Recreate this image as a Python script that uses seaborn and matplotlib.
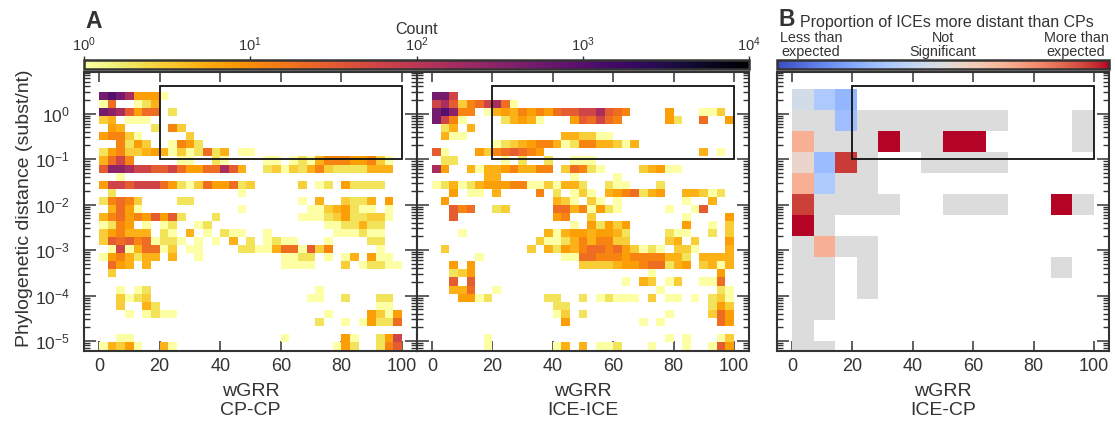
import numpy as np
import matplotlib
matplotlib.use("Agg")
import matplotlib.pyplot as plt
import seaborn as sns
from matplotlib.cm import ScalarMappable
from matplotlib.colors import LogNorm, Normalize
from matplotlib.patches import Rectangle
from matplotlib.ticker import LogLocator, NullFormatter, NullLocator

count_levels = {"a": 1, "b": 2, "c": 3, "d": 5, "e": 7, "f": 12, "g": 20, "h": 30,
                "i": 60, "j": 150, "k": 300, "l": 500, "m": 1000}

cp_cp = [
    "lmljeeea",
    "ag..abd",
    "lkjhegg.b",
    "cd.aaa",
    ".ed...b.fc",
    "effca.....c",
    "..fbec..afeb",
    "befccdedacabgbd.aa",
    "dgif.....aa..ba....aa.abadfffeefca",
    "hkkjiihhigeeggjhd..bcacbdfcbbbbddd",
    "..a",
    "eiihiiigebacgeegbc.....c.ab.ebbbb",
    ".b..............a",
    "bfgfc....bb............a.d..cbbd.e",
    ".dgea...........a.......aacdebaa.a",
    "dfgefehehb...b.........aaabcebbcca",
    "abfe.a.ab..ab.............aabbdbb",
    "cefddd.ba.d.a.baa..a.......aaabaa",
    "chghfgabba.a.a.d.b.abaa...a....bb",
    ".aiadggac.aa....bbaadggahcf.....a",
    "aefdbdd.d..a.........aabb.a.ad.eaa",
    ".ged.d...............aaaa...c.abbaa",
    ".c",
    "",
    "..a.ab...................a",
    "..cabc..................aa..b...bb",
    "..c..db.........................aa",
    "...a.abaa.................a....ecae",
    ".........................b..a.aebbg",
    "",
    "..aa.................a......ea..bei",
    "adcea..da..................aeb..bfh",
]

ice_ice = [
    "lli",
    "ijhcfgijga",
    "lmkff.adedfefeghhiijhgf....e...aac",
    "lifa....bdeda...ehgigf.....eb..g..e",
    ".bd.d",
    ".daa...........ddccaa",
    ".......abcdeffdabffddcad",
    "ha...ecfghgfe..................d.a",
    ".bb.....a.b..b..aaa",
    "je..daddefddff.cgfba....cdeaa",
    "......dd........a....a",
    "abdabdeeeffaacaddb..baa...b",
    "..e.aa.d....f.b.aca.defgbde..ddcab",
    ".e............dca.ca.a.......a..d",
    "..hfg..bc.....ggdfaeba.....a..ah",
    "..h...........ef..c..........a....e",
    "................a.ebece......e..a.c",
    "...a.........dadeedeedb....baa..b.c",
    "............caabdfdffcc....cd.c...e",
    ".c.........c.dbedfggfgecaba.cca...d",
    ".....a.........aaggfffeffffddb.dddd",
    "..e.e............ccccdeefggbde.cdad",
    "..bce....................a.......e",
    "..h.h.................a.dc.ac..aag",
    "..ddg..a..................a......ba",
    "...eeab......bb..b.abaaa.c.aa.a.bca",
    "..............bb................bec",
    "..............ac.b.........a....cge",
    "...............e........a.a......ge",
    "",
    "......a....................a.a...ac",
    "......a.......ad.d.aab...a...a..ahe",
]

# colour position on the coolwarm bar, 0.5 is not significant, nan is no cell
n = np.nan
ice_cp = [
    [0.46, 0.34, 0.27, n, n, n, n, n, n, n, n, n, n, n],
    [0.50, 0.50, 0.30, 0.5, 0.5, 0.5, 0.5, 0.5, 0.5, 0.5, n, n, n, 0.5],
    [0.69, 0.50, 0.50, 0.5, 1.0, 0.5, 0.5, 1.0, 1.0, n, n, n, n, 0.5],
    [0.55, 0.29, 0.94, 0.5, n, n, 0.5, 0.5, 0.5, 0.5, n, n, n, n],
    [0.69, 0.35, 0.50, 0.5, n, n, n, n, n, n, n, n, n, n],
    [0.93, 0.50, 0.50, 0.5, 0.5, n, n, 0.5, 0.5, 0.5, n, n, 1.0, 0.5],
    [1.00, 0.50, n, n, n, n, n, n, n, n, n, n, n, n],
    [0.50, 0.69, 0.50, 0.5, n, n, n, n, n, n, n, n, n, n],
    [0.50, 0.50, n, 0.5, n, n, n, n, n, n, n, n, 0.5, n],
    [0.50, 0.50, n, 0.5, n, n, n, n, n, n, n, n, n, n],
    [0.50, 0.50, n, n, n, n, n, n, n, n, n, n, n, n],
    [0.50, n, n, n, n, n, n, n, n, n, n, n, n, n],
    [0.50, 0.50, n, n, n, n, n, n, n, n, n, n, n, n],
]

xticks = [0, 20, 40, 60, 80, 100]
yticks = [1e-5, 1e-4, 1e-3, 1e-2, 1e-1, 1]
bar_ticks = [1, 10, 100, 1000, 10000]
x_names = ["CP-CP", "ICE-ICE", "ICE-CP"]

TEXT = "#333333"
W, H = 1115, 421

sns.set_theme(style="ticks", rc={
    "axes.edgecolor": TEXT, "axes.linewidth": 1.5,
    "xtick.color": TEXT, "ytick.color": TEXT,
    "text.color": TEXT, "axes.labelcolor": TEXT,
})
plt.rcParams["font.family"] = ["Liberation Sans", "DejaVu Sans"]


def px_axes(fig, left, top, right, bottom):
    return fig.add_axes([left / W, 1 - bottom / H, (right - left) / W, (bottom - top) / H])


def long_form_counts(rows, x_edges, y_edges):
    # top row of the strings is the highest bin
    x_mid = (x_edges[:-1] + x_edges[1:]) / 2
    y_mid = ((y_edges[:-1] + y_edges[1:]) / 2)[::-1]
    xs, ys, ws = [], [], []
    for r, row in enumerate(rows):
        for c, ch in enumerate(row):
            if ch != ".":
                xs.append(x_mid[c])
                ys.append(10 ** y_mid[r])
                ws.append(count_levels[ch])
    return xs, ys, ws


def long_form_values(rows, x_edges, y_edges):
    x_mid = (x_edges[:-1] + x_edges[1:]) / 2
    y_mid = ((y_edges[:-1] + y_edges[1:]) / 2)[::-1]
    xs, ys, ws = [], [], []
    for r, row in enumerate(rows):
        for c, val in enumerate(row):
            if not np.isnan(val):
                xs.append(x_mid[c])
                ys.append(10 ** y_mid[r])
                ws.append(val)
    return xs, ys, ws


def style_panel(ax, xname, show_y=False):
    ax.set_yticks(yticks)
    ax.yaxis.set_minor_locator(LogLocator(base=10, subs=np.arange(2, 10), numticks=12))
    ax.yaxis.set_minor_formatter(NullFormatter())
    ax.set_xlim(-5, 105)
    ax.set_ylim(10 ** -5.22, 10 ** 0.916)
    ax.set_xticks(xticks)
    ax.set_xticklabels([str(t) for t in xticks], fontsize=13)
    ax.tick_params(axis="x", which="major", direction="in", top=True, bottom=True,
                   length=7.5, width=1.1, pad=5)
    ax.tick_params(axis="y", which="major", direction="in", left=True, right=True,
                   length=8.5, width=1.1, labelsize=12.5, labelleft=show_y, pad=10)
    ax.tick_params(axis="y", which="minor", direction="in", left=True, right=True,
                   length=4.5, width=1.0)
    ax.set_xlabel("wGRR\n" + xname, fontsize=14, labelpad=6, linespacing=1.15)
    if show_y:
        ax.set_ylabel("Phylogenetic distance (subst/nt)", fontsize=14)
        ax.yaxis.set_label_coords(-51 / 333, 0.51)
    else:
        ax.set_ylabel("")
    # region of interest
    ax.add_patch(Rectangle((20, 0.1), 80, 4.06 - 0.1, fill=False, ec="#111111", lw=1.3, zorder=5))


fig = plt.figure(figsize=(W / 100, H / 100), dpi=100)

count_cmap = sns.color_palette("inferno_r", as_cmap=True)
count_norm = LogNorm(vmin=1, vmax=10000)
diff_cmap = sns.color_palette("coolwarm", as_cmap=True)
diff_norm = Normalize(vmin=0, vmax=1)

count_x_edges = np.linspace(0, 100, 36)
count_y_edges = np.linspace(-5.2, 0.477, 33)
diff_x_edges = np.linspace(0, 100, 15)
diff_y_edges = np.linspace(0.543 - 13 * 0.4615, 0.543, 14)

ax1 = px_axes(fig, 84, 72, 417, 351)
ax2 = px_axes(fig, 417, 72, 749, 351)
ax3 = px_axes(fig, 777, 72, 1109, 351)

for ax, rows, name in zip([ax1, ax2], [cp_cp, ice_ice], x_names):
    xs, ys, ws = long_form_counts(rows, count_x_edges, count_y_edges)
    sns.histplot(x=xs, y=ys, weights=ws, bins=[count_x_edges, count_y_edges],
                 log_scale=(False, True), cmap=count_cmap, ax=ax)
    ax.collections[0].set_norm(count_norm)
    style_panel(ax, name, show_y=ax is ax1)

xs, ys, ws = long_form_values(ice_cp, diff_x_edges, diff_y_edges)
sns.histplot(x=xs, y=ys, weights=ws, bins=[diff_x_edges, diff_y_edges],
             log_scale=(False, True), cmap=diff_cmap, ax=ax3)
ax3.collections[0].set_norm(diff_norm)
style_panel(ax3, x_names[2])

# colour bars
cax_a = px_axes(fig, 84, 60, 749, 69)
cb_a = fig.colorbar(ScalarMappable(norm=count_norm, cmap=count_cmap), cax=cax_a, orientation="horizontal")
cb_a.set_ticks(bar_ticks)
cb_a.minorticks_off()
cax_a.xaxis.set_minor_locator(NullLocator())
cax_a.xaxis.set_ticks_position("top")
cax_a.tick_params(axis="x", length=3, width=1, labelsize=10.5, pad=1.5)
cb_a.outline.set_linewidth(1.8)
cb_a.outline.set_edgecolor(TEXT)

cax_b = px_axes(fig, 777, 60, 1109, 69)
cb_b = fig.colorbar(ScalarMappable(norm=diff_norm, cmap=diff_cmap), cax=cax_b, orientation="horizontal")
cb_b.set_ticks([])
cb_b.outline.set_linewidth(1.8)
cb_b.outline.set_edgecolor(TEXT)

# panel letters and titles
fig.text(85 / W, 1 - 21 / H, "A", fontsize=16.5, fontweight="bold", va="center", ha="left")
fig.text(778 / W, 1 - 20 / H, "B", fontsize=16.5, fontweight="bold", va="center", ha="left")
fig.text(417 / W, 1 - 29 / H, "Count", fontsize=11.5, va="center", ha="center")
fig.text(800 / W, 1 - 22 / H, "Proportion of ICEs more distant than CPs", fontsize=11.5, va="center", ha="left")
for x_px, label in zip([811, 943, 1076], ["Less than\nexpected", "Not\nSignificant", "More than\nexpected"]):
    fig.text(x_px / W, 1 - 45 / H, label, fontsize=10.4, va="center", ha="center", linespacing=1.0)

fig.savefig("out.png", dpi=100)
